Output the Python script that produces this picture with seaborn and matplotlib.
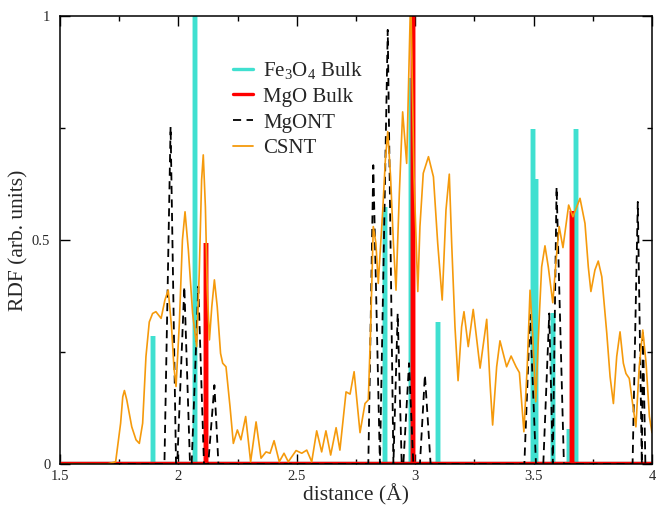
import numpy as np
import pandas as pd
import matplotlib
matplotlib.use("Agg")
import matplotlib.pyplot as plt
import seaborn as sns

# ---------------- data ----------------
# Fe3O4 bulk: stick positions and heights
fe3o4_x = [1.893, 2.070, 2.871, 2.981, 3.097, 3.498, 3.512, 3.583, 3.651, 3.678]
fe3o4_h = [0.286, 1.05, 0.574, 0.861, 0.318, 0.748, 0.636, 0.336, 0.078, 0.748]

# MgO bulk: stick positions and heights
mgo_x = [2.115, 2.990, 3.664]
mgo_h = [0.493, 1.05, 0.565]

# MgONT (dashed) curve points
mgont_x = [1.50, 1.941, 1.967, 1.990, 1.995, 2.025, 2.049, 2.056, 2.084, 2.108,
           2.126, 2.152, 2.169, 2.802, 2.823, 2.851, 2.884, 2.908, 2.926, 2.943,
           2.950, 2.974, 2.992, 3.020, 3.041, 3.065, 3.461, 3.485, 3.510, 3.541,
           3.566, 3.581, 3.597, 3.628, 3.918, 3.940, 3.957, 3.962, 3.972, 4.00]
mgont_y = [0.0, 0.0, 0.753, 0.0, 0.0, 0.396, 0.0, 0.0, 0.396, 0.0,
           0.0, 0.176, 0.0, 0.0, 0.667, 0.0, 0.969, 0.0, 0.336, 0.0,
           0.0, 0.225, 0.0, 0.0, 0.199, 0.0, 0.0, 0.333, 0.0, 0.0,
           0.336, 0.0, 0.618, 0.0, 0.0, 0.585, 0.0, 0.299, 0.0, 0.0]

# CSNT curve points
csnt_x = [1.500, 1.700, 1.735, 1.756, 1.765, 1.772, 1.782, 1.803, 1.821, 1.835,
          1.849, 1.863, 1.877, 1.891, 1.905, 1.927, 1.943, 1.957, 1.971, 1.981,
          1.990, 2.004, 2.017, 2.028, 2.042, 2.060, 2.077, 2.088, 2.098, 2.105,
          2.114, 2.122, 2.131, 2.141, 2.152, 2.164, 2.178, 2.187, 2.201, 2.218,
          2.232, 2.249, 2.264, 2.284, 2.305, 2.328, 2.349, 2.370, 2.387, 2.404,
          2.426, 2.446, 2.464, 2.497, 2.521, 2.542, 2.563, 2.584, 2.605, 2.623,
          2.643, 2.666, 2.682, 2.708, 2.725, 2.742, 2.767, 2.788, 2.802, 2.812,
          2.823, 2.834, 2.844, 2.863, 2.874, 2.884, 2.896, 2.908, 2.919, 2.933,
          2.947, 2.964, 2.981, 2.995, 3.011, 3.020, 3.034, 3.056, 3.077, 3.095,
          3.114, 3.130, 3.144, 3.154, 3.168, 3.181, 3.196, 3.206, 3.224, 3.245,
          3.274, 3.302, 3.316, 3.327, 3.344, 3.358, 3.386, 3.405, 3.426, 3.440,
          3.459, 3.473, 3.485, 3.496, 3.509, 3.524, 3.534, 3.548, 3.562, 3.581,
          3.595, 3.608, 3.624, 3.648, 3.666, 3.696, 3.717, 3.731, 3.742, 3.759,
          3.773, 3.788, 3.809, 3.823, 3.837, 3.851, 3.865, 3.879, 3.890, 3.904,
          3.918, 3.932, 3.946, 3.961, 3.975, 3.989, 4.000]
csnt_y = [0.000, 0.000, 0.005, 0.091, 0.150, 0.164, 0.143, 0.083, 0.054, 0.046,
          0.091, 0.240, 0.317, 0.336, 0.340, 0.325, 0.366, 0.388, 0.306, 0.217,
          0.173, 0.314, 0.500, 0.563, 0.478, 0.336, 0.262, 0.426, 0.634, 0.690,
          0.574, 0.388, 0.277, 0.351, 0.411, 0.351, 0.247, 0.225, 0.217, 0.128,
          0.046, 0.076, 0.054, 0.106, 0.005, 0.094, 0.013, 0.027, 0.024, 0.052,
          0.005, 0.024, 0.005, 0.030, 0.024, 0.031, 0.005, 0.074, 0.027, 0.074,
          0.020, 0.081, 0.031, 0.161, 0.156, 0.206, 0.070, 0.135, 0.143, 0.306,
          0.530, 0.493, 0.403, 0.567, 0.679, 0.742, 0.641, 0.493, 0.388, 0.604,
          0.786, 0.671, 1.050, 0.641, 0.385, 0.530, 0.649, 0.686, 0.641, 0.493,
          0.366, 0.567, 0.647, 0.493, 0.306, 0.186, 0.306, 0.340, 0.262, 0.345,
          0.214, 0.323, 0.180, 0.087, 0.217, 0.275, 0.217, 0.241, 0.217, 0.204,
          0.072, 0.217, 0.388, 0.292, 0.139, 0.329, 0.440, 0.487, 0.440, 0.360,
          0.455, 0.530, 0.483, 0.578, 0.552, 0.593, 0.537, 0.440, 0.385, 0.433,
          0.453, 0.418, 0.292, 0.195, 0.135, 0.240, 0.295, 0.225, 0.202, 0.191,
          0.135, 0.083, 0.217, 0.299, 0.225, 0.106, 0.070]

x_ticks = [1.5, 2, 2.5, 3, 3.5, 4]
x_ticklabels = ["1.5", "2", "2.5", "3", "3.5", "4"]
y_ticks = [0, 0.5, 1]
y_ticklabels = ["0", "0.5", "1"]


def stick_series(xs, hs, lo=1.5, hi=4.0):
    px, py = [lo], [0.0]
    for x, h in zip(xs, hs):
        px += [x, x, x]
        py += [0.0, h, 0.0]
    px.append(hi)
    py.append(0.0)
    return pd.DataFrame({"x": px, "y": py})


fe_df = stick_series(fe3o4_x, fe3o4_h)
mgo_df = stick_series(mgo_x, mgo_h)
mgont_df = pd.DataFrame({"x": mgont_x, "y": mgont_y})
csnt_df = pd.DataFrame({"x": csnt_x, "y": csnt_y})

# ---------------- style ----------------
sns.set_style("ticks")
plt.rcParams["font.family"] = ["Liberation Serif", "DejaVu Serif"]
plt.rcParams["mathtext.fontset"] = "custom"
plt.rcParams["mathtext.rm"] = "Liberation Serif"
plt.rcParams["mathtext.it"] = "Liberation Serif:italic"
plt.rcParams["mathtext.bf"] = "Liberation Serif:bold"

fig = plt.figure(figsize=(6.64, 5.08), dpi=100)
ax = fig.add_axes([60 / 664, 1 - 464 / 508, 592 / 664, 448 / 508])

turq = "#40E0D0"
red = "#FF0000"
orange = "#F59A0C"

sns.lineplot(data=fe_df, x="x", y="y", sort=False, estimator=None, ax=ax,
             color=turq, lw=3.2, label="Fe$_\\mathrm{3}$O$_\\mathrm{4}$ Bulk",
             solid_joinstyle="miter")
sns.lineplot(data=mgo_df, x="x", y="y", sort=False, estimator=None, ax=ax,
             color=red, lw=3.2, label="MgO Bulk", solid_joinstyle="miter")
sns.lineplot(data=mgont_df, x="x", y="y", sort=False, estimator=None, ax=ax,
             color="black", lw=1.3, label="MgONT", dashes=False,
             linestyle=(0, (4.5, 3)))
sns.lineplot(data=csnt_df, x="x", y="y", sort=False, estimator=None, ax=ax,
             color=orange, lw=1.2, label="CSNT")

ax.set_xlim(1.5, 4.0)
ax.set_ylim(0, 1.0)
ax.set_xticks(x_ticks)
ax.set_xticklabels(x_ticklabels)
ax.set_yticks(y_ticks)
ax.set_yticklabels(y_ticklabels)
ax.set_xticks(np.arange(1.75, 4.0, 0.5), minor=True)
ax.set_yticks([0.25, 0.75], minor=True)
ax.tick_params(which="both", direction="in", top=True, right=True,
               labelsize=10.5, width=1.0, color="black")
ax.tick_params(axis="y", which="both", pad=7)
ax.tick_params(axis="x", which="both", pad=4)
ax.tick_params(which="major", length=7)
ax.tick_params(which="minor", length=3.6)
for s in ax.spines.values():
    s.set_linewidth(1.1)
    s.set_color("black")

ax.set_xlabel("distance (Å)", fontsize=15.5, labelpad=1)
ax.set_ylabel("RDF (arb. units)", fontsize=15.5)
ax.yaxis.set_label_coords(-0.053, 0.5)

leg = ax.legend(loc="upper left", bbox_to_anchor=(0.292, 0.902), frameon=False,
                fontsize=15, handlelength=0.96, handletextpad=0.5,
                labelspacing=0.3, borderpad=0, borderaxespad=0)
for ln in leg.get_lines():
    ln.set_linewidth(2.4)
leg.get_lines()[2].set_linewidth(1.3)
leg.get_lines()[3].set_linewidth(1.3)

fig.savefig("out.png", dpi=100)
